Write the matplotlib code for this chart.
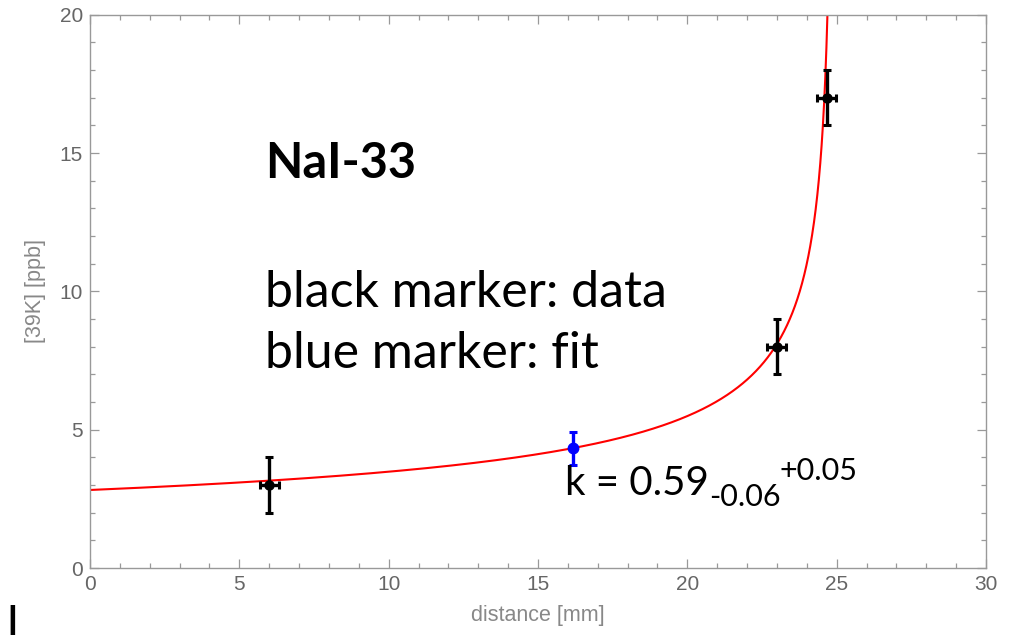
import numpy as np
import matplotlib
matplotlib.use("Agg")
import matplotlib.pyplot as plt
from matplotlib.ticker import MultipleLocator

# Measured concentrations along the crystal
data_x = [6.0, 23.0, 24.66]
data_y = [3.0, 8.0, 17.0]
data_xerr = [0.32, 0.32, 0.32]
data_yerr = [1.0, 1.0, 1.0]

# Fitted point
fit_x = [16.16]
fit_y = [4.33]
fit_yerr = [0.6]

# Normal-freezing (Scheil) model parameters
k_eff = 0.59
k_err_lo = "-0.06"
k_err_hi = "+0.05"
c0 = 2.82          # concentration at distance 0 [ppb]
length = 24.9      # effective ingot length [mm]

x_ticks = [0, 5, 10, 15, 20, 25, 30]
y_ticks = [0, 5, 10, 15, 20]

fig = plt.figure(figsize=(10.16, 6.35), dpi=100)
ax = fig.add_axes([90 / 1016, 1 - 568 / 635, (986 - 90) / 1016, (568 - 14.7) / 635])

xs = np.linspace(0, length * 0.99999, 4000)
ys = c0 * (1 - xs / length) ** (k_eff - 1)
ax.plot(xs, ys, color="#ff0000", lw=1.5, zorder=2)

ax.errorbar(data_x, data_y, xerr=data_xerr, yerr=data_yerr, fmt="o", color="black",
            ms=6.5, elinewidth=2.4, capsize=2.6, capthick=2.2, zorder=3)
ax.errorbar(fit_x, fit_y, yerr=fit_yerr, fmt="o", color="#0000ff",
            ms=7.5, elinewidth=2.4, capsize=3.0, capthick=2.2, zorder=3)

ax.set_xlim(0, 30)
ax.set_ylim(0, 20)
ax.set_xticks(x_ticks)
ax.set_yticks(y_ticks)
ax.xaxis.set_minor_locator(MultipleLocator(1))
ax.yaxis.set_minor_locator(MultipleLocator(1))

frame_col = "#999999"
for s in ax.spines.values():
    s.set_color(frame_col)
    s.set_linewidth(1.0)
ax.tick_params(which="both", direction="in", top=True, right=True, color=frame_col,
               labelcolor="#666666", labelsize=15, width=0.9)
ax.tick_params(which="major", length=6.5, pad=5)
ax.tick_params(which="minor", length=3.5)
ax.tick_params(axis="x", labeltop=False)
ax.tick_params(axis="y", labelright=False)
for lab in ax.get_xticklabels() + ax.get_yticklabels():
    lab.set_family("Liberation Sans")

ax.set_xlabel("distance [mm]", fontsize=15.5, color="#888888",
              family="Liberation Sans", labelpad=8)
ax.set_ylabel("[39K] [ppb]", fontsize=15.5, color="#888888",
              family="Liberation Sans", labelpad=10)

txt_font = "Lato"
ax.text(5.85, 14.1, "NaI-33", fontsize=35, fontweight="bold", family=txt_font,
        color="black", ha="left", va="baseline")
ax.text(5.85, 9.44, "black marker: data", fontsize=36, family=txt_font,
        color="black", ha="left", va="baseline")
ax.text(5.85, 7.23, "blue marker: fit", fontsize=36, family=txt_font,
        color="black", ha="left", va="baseline")

# k value with asymmetric errors: subscript first, superscript after it
ax.text(15.9, 2.64, f"k = {k_eff:.2f}", fontsize=29, family=txt_font,
        color="black", ha="left", va="baseline")
ax.text(20.72, 2.24, k_err_lo, fontsize=22, family=txt_font,
        color="black", ha="left", va="baseline")
ax.text(23.1, 3.18, k_err_hi, fontsize=22, family=txt_font,
        color="black", ha="left", va="baseline")

# Clipped glyph at the lower-left corner
fig.text(6 / 1016, 1 - 605 / 635, "l", fontsize=36,
         family=txt_font, color="black", ha="left", va="top")

fig.savefig("out.png", dpi=100)
